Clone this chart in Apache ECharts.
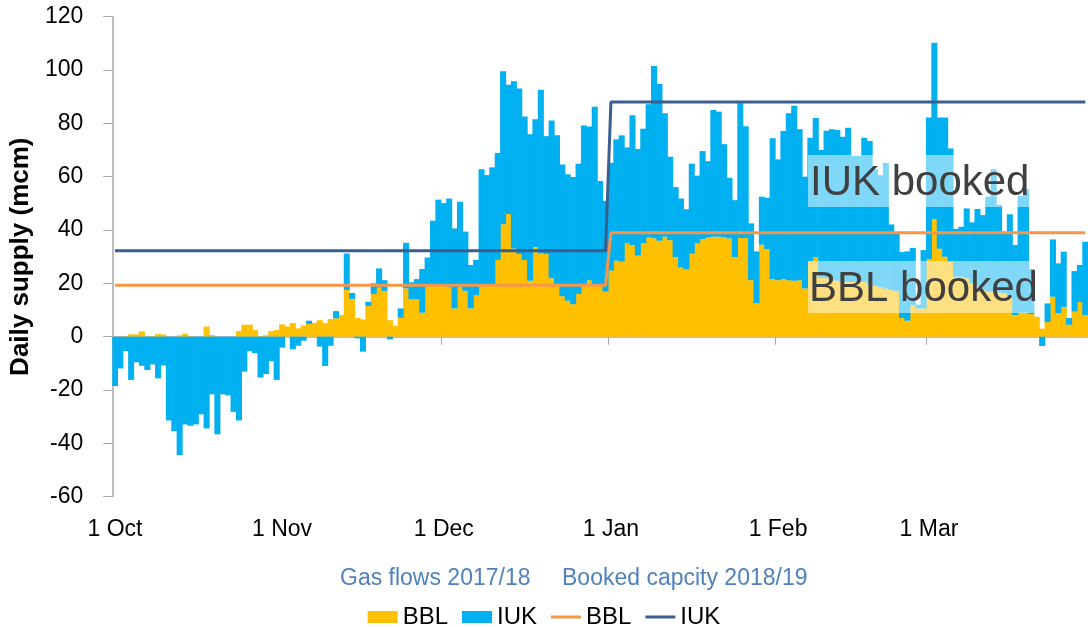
<!DOCTYPE html>
<html>
<head>
<meta charset="utf-8">
<script src="https://cdn.jsdelivr.net/npm/echarts@6/dist/echarts.min.js"></script>
<style>
  html, body { margin: 0; padding: 0; background: #fff; }
  #chart { width: 1088px; height: 627px; }
</style>
</head>
<body>
<div id="chart"></div>
<script>
const FONT = 'Liberation Sans, Arial, sans-serif';

// days shown on the axis, 1 Oct 2017 .. 30 Mar 2018
const months = ['Oct', 'Nov', 'Dec', 'Jan', 'Feb', 'Mar'];
const monthDays = [31, 30, 31, 31, 28, 30];

// daily flows (mcm), one value per day
const bblFlow = [
  0, 0, 0.3, 0.9, 0.9, 2, 0, 0.3, 1, 0.8, 0, 0, 0.5, 1.1, 0.3, 0, 0, 3.8, 0.6, 0, 0, 0, 0, 2.1, 4.5, 4.5, 2.5, 0.2, 0.5, 2.1, 2.5,
  4.6, 3.8, 5.1, 3.1, 4.2, 4.8, 5.2, 6.2, 5.1, 6.6, 6.9, 8.1, 17.5, 14.2, 7, 6.5, 11.5, 16, 18.4, 17.2, 6.2, 4.1, 7.1, 18.1, 14, 14, 9, 19, 19, 19.5,
  19.5, 18.5, 10.6, 18.5, 17.2, 10.6, 15.5, 19.5, 19.5, 19.5, 28.8, 42.2, 46, 33.1, 31, 28.8, 21, 33.6, 31.2, 31, 21.9, 19.2, 15.2, 13.5, 12.2, 16, 19.2, 21.2, 19.2, 19.5, 16.9,
  24.8, 28.5, 28.1, 35.2, 34.4, 30.4, 35, 37.2, 36.9, 36, 37.5, 36.2, 29.8, 25.9, 25.2, 31.1, 35, 36.6, 37.2, 37.5, 37.5, 37.2, 36.8, 29.8, 37, 37, 21.2, 12.5, 34.5, 32.8, 21.5,
  21.2, 21.5, 21.2, 21, 21.2, 18.1, 28.1, 29.8, 22, 21.9, 21.5, 21, 20.5, 20.5, 20.5, 20.5, 20.5, 19.5, 19, 18.5, 18, 17.5, 17, 7, 6, 11.9, 10.6, 10.6,
  29, 44, 33, 30, 28, 22.5, 22.5, 21.9, 20, 18.8, 17.5, 16.9, 16.9, 16.5, 16.2, 15, 8.1, 9, 9, 8.5, 7.5, 3, 5.5, 15, 8.8, 11.2, 4.5, 9.4, 13, 8
];
const iukFlow = [
  -18.5, -11.9, -5.4, -16.2, -9.6, -10.9, -12.5, -10.4, -15.6, -10.8, -31.4, -35.4, -44.4, -32.9, -33.4, -32.9, -29.1, -34.4, -21.6, -36.6, -21.6, -22, -28.2, -31.4, -13.1, -5.4, -6.2, -15.3, -14, -9.2, -16.2,
  -4.1, 0, -4.7, -3.4, -1.5, 1.2, 0, -3.7, -11, -3.4, 2.7, 0, 13.7, 2.2, -0.6, -5.6, 1.6, 4, 7.2, 4, -1, 0, 3.5, 17.1, 6.4, 7.6, 16.4, 10.7, 24.5, 31.9,
  30.6, 33.3, 30, 32.1, 22.2, 16.3, 13.3, 43.3, 41.1, 44, 40.1, 57.3, 48.5, 62.7, 62.1, 53.8, 54.9, 47.9, 61.4, 44.2, 59.2, 56.3, 49.4, 47.4, 47.7, 48.9, 60, 57.6, 67, 38.9, 34,
  40.4, 45.5, 47.4, 35.8, 48.6, 40, 43, 50, 64.6, 58.8, 46.3, 31.3, 26.3, 25.9, 22.6, 33.8, 25.4, 33, 28.6, 47.5, 46.9, 35, 22.8, 21.4, 50.5, 41.9, 21.3, 19.5, 18, 19.3, 52.9,
  45.3, 55.6, 62.6, 65.6, 56.6, 41.9, 46.5, 52.2, 48, 55.3, 56.3, 56.5, 54.5, 57.9, 47.3, 47.3, 54.1, 53.9, 43.8, 42.1, 47.2, 24.6, 21.8, 24.8, 26, 21.4, 1.4, 21.9,
  53.2, 66.2, 49.2, 52.2, 42.6, 17.9, 18.7, 26.2, 22.9, 29.1, 28.1, 35.6, 45.9, 32.9, 23.2, 30.9, 26.3, 43.8, 46.4, 16.9, 0, -3.5, 7, 21.5, 18.7, 20.7, 2.5, 15.2, 13.9, 27.6
];

// booked capacity 2018/19: level before and from the switch day
const bookedBBL = [19.3, 39];
const bookedIUK = [32.2, 88];
const switchDay = '1 Jan';

const days = [];
months.forEach((m, i) => {
  for (let d = 1; d <= monthDays[i]; d++) days.push(d + ' ' + m);
});
const switchIdx = days.indexOf(switchDay);
const stepLine = (levels) => days.map((d, i) => (i < switchIdx ? levels[0] : levels[1]));
const isMonthStart = (idx, val) => val.indexOf('1 ') === 0;

// legend icon for the booked lines: a plain thin bar
const lineIcon = 'path://M0,0 L30,0 L30,3 L0,3 Z';

const chart = echarts.init(document.getElementById('chart'));
chart.setOption({
  animation: false,
  textStyle: { fontFamily: FONT },
  grid: { left: 110.5, top: 16.7, width: 980, height: 480 },
  xAxis: [{
    type: 'category',
    data: days,
    position: 'bottom',
    axisLine: { onZero: true, lineStyle: { color: '#a6a6a6', width: 1.5 } },
    axisTick: { show: true, interval: isMonthStart, length: 8, lineStyle: { color: '#a6a6a6' } },
    axisLabel: { show: false },
    splitLine: { show: false }
  }, {
    type: 'category',
    data: days,
    position: 'bottom',
    axisLine: { show: false, onZero: false },
    axisTick: { show: false },
    axisLabel: { interval: isMonthStart, fontSize: 23, color: '#000', fontFamily: FONT, margin: 21 },
    splitLine: { show: false }
  }],
  yAxis: {
    type: 'value',
    min: -60,
    max: 120,
    interval: 20,
    name: 'Daily supply (mcm)',
    nameLocation: 'middle',
    nameGap: 70,
    nameTextStyle: { fontSize: 26, fontWeight: 'bold', color: '#000', fontFamily: FONT },
    axisLine: { show: true, lineStyle: { color: '#a6a6a6', width: 1.5 } },
    axisTick: { show: true, length: 9, lineStyle: { color: '#a6a6a6' } },
    axisLabel: { fontSize: 23, color: '#000', fontFamily: FONT, margin: 29 },
    splitLine: { show: false }
  },
  legend: {
    top: 600,
    left: 'center',
    itemWidth: 30,
    itemHeight: 12,
    itemGap: 14,
    textStyle: { fontSize: 24, color: '#000', fontFamily: FONT },
    formatter: (name) => name.trim(),
    data: [
      { name: 'BBL', icon: 'rect' },
      { name: 'IUK', icon: 'rect' },
      { name: 'BBL ', icon: lineIcon },
      { name: 'IUK ', icon: lineIcon }
    ]
  },
  series: [{
    name: 'BBL',
    type: 'bar',
    stack: 'flows',
    barWidth: '112%',
    itemStyle: { color: '#ffc000' },
    data: bblFlow
  }, {
    name: 'IUK',
    type: 'bar',
    stack: 'flows',
    barWidth: '112%',
    itemStyle: { color: '#00b0f0' },
    data: iukFlow
  }, {
    name: 'BBL ',
    type: 'line',
    symbol: 'none',
    color: '#f79646',
    lineStyle: { color: '#f79646', width: 3 },
    data: stepLine(bookedBBL)
  }, {
    name: 'IUK ',
    type: 'line',
    symbol: 'none',
    color: '#3b5e8f',
    lineStyle: { color: '#3b5e8f', width: 3 },
    data: stepLine(bookedIUK)
  }],
  graphic: [
    { type: 'rect', z: 100, shape: { x: 808, y: 155, width: 222, height: 52 }, style: { fill: 'rgba(255,255,255,0.5)' } },
    { type: 'text', z: 101, x: 810, y: 183.5, style: { text: 'IUK booked', font: '42px ' + FONT, fill: '#404040', verticalAlign: 'middle' } },
    { type: 'rect', z: 100, shape: { x: 808, y: 261, width: 229, height: 52 }, style: { fill: 'rgba(255,255,255,0.5)' } },
    { type: 'text', z: 101, x: 809, y: 289.5, style: { text: 'BBL booked', font: '42px ' + FONT, fill: '#404040', verticalAlign: 'middle' } },
    { type: 'text', z: 101, x: 340, y: 579, style: { text: 'Gas flows 2017/18', font: '23px ' + FONT, fill: '#4f81bd', verticalAlign: 'middle' } },
    { type: 'text', z: 101, x: 562, y: 579, style: { text: 'Booked capcity 2018/19', font: '23px ' + FONT, fill: '#4f81bd', verticalAlign: 'middle' } }
  ]
});
</script>
</body>
</html>
